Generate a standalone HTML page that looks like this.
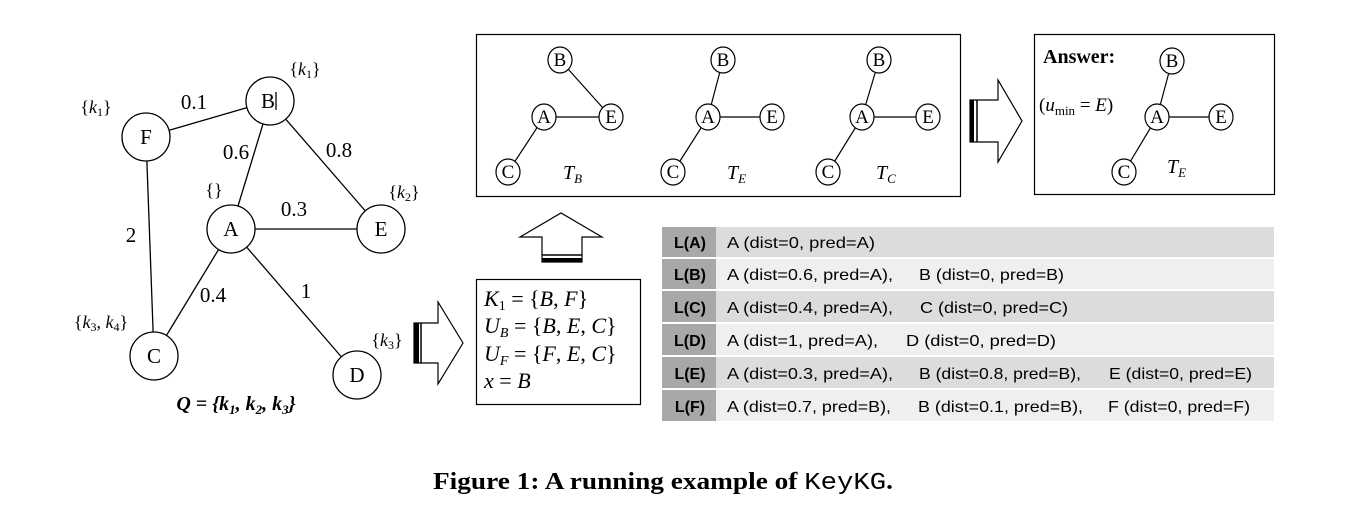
<!DOCTYPE html>
<html><head><meta charset="utf-8"><style>
body{margin:0;background:#fff}
svg text{font-family:"Liberation Serif",serif}
svg .t text{font-family:"Liberation Sans",sans-serif;font-size:16px}
</style></head><body>
<svg width="1357" height="511" viewBox="0 0 1357 511" xmlns="http://www.w3.org/2000/svg">
<g stroke="#000" stroke-width="1.3" fill="none">
<line x1="146" y1="137" x2="270" y2="101"/>
<line x1="146" y1="137" x2="154" y2="356"/>
<line x1="270" y1="101" x2="231" y2="229"/>
<line x1="270" y1="101" x2="381" y2="229"/>
<line x1="231" y1="229" x2="381" y2="229"/>
<line x1="231" y1="229" x2="154" y2="356"/>
<line x1="231" y1="229" x2="357" y2="375"/>
</g>
<g stroke="#000" stroke-width="1.3" fill="#fff">
<circle cx="146" cy="137" r="24"/><circle cx="270" cy="101" r="24"/><circle cx="231" cy="229" r="24"/>
<circle cx="381" cy="229" r="24"/><circle cx="154" cy="356" r="24"/><circle cx="357" cy="375" r="24"/>
</g>
<g font-size="21" text-anchor="middle">
<text x="146" y="144">F</text><text x="268" y="108">B</text><text x="231" y="236">A</text>
<text x="381" y="236">E</text><text x="154" y="363">C</text><text x="357" y="382">D</text>
<text x="194" y="109">0.1</text><text x="236" y="159">0.6</text><text x="339" y="157">0.8</text>
<text x="294" y="216">0.3</text><text x="131" y="242">2</text><text x="213" y="302">0.4</text><text x="306" y="298">1</text>
</g>
<line x1="276" y1="92" x2="276" y2="110" stroke="#000" stroke-width="1.3"/>
<g font-size="18" text-anchor="middle">
<text x="96" y="113">{<tspan font-style="italic">k</tspan><tspan font-size="12" dy="3">1</tspan><tspan dy="-3">}</tspan></text>
<text x="305" y="75">{<tspan font-style="italic">k</tspan><tspan font-size="12" dy="3">1</tspan><tspan dy="-3">}</tspan></text>
<text x="214" y="196">{}</text>
<text x="404" y="198">{<tspan font-style="italic">k</tspan><tspan font-size="12" dy="3">2</tspan><tspan dy="-3">}</tspan></text>
<text x="101" y="328">{<tspan font-style="italic">k</tspan><tspan font-size="12" dy="3">3</tspan><tspan dy="-3">, </tspan><tspan font-style="italic">k</tspan><tspan font-size="12" dy="3">4</tspan><tspan dy="-3">}</tspan></text>
<text x="387" y="346">{<tspan font-style="italic">k</tspan><tspan font-size="12" dy="3">3</tspan><tspan dy="-3">}</tspan></text>
</g>
<text x="236" y="410" font-size="20" font-weight="bold" font-style="italic" text-anchor="middle">Q = {k<tspan font-size="13" dy="4">1</tspan><tspan dy="-4">, k</tspan><tspan font-size="13" dy="4">2</tspan><tspan dy="-4">, k</tspan><tspan font-size="13" dy="4">3</tspan><tspan dy="-4">}</tspan></text>

<path d="M414 323 H438 V302 L463 343 L438 384 V363 H414 Z" fill="#fff" stroke="#000" stroke-width="1.2"/>
<rect x="414" y="323" width="5" height="40" fill="#000"/><line x1="421" y1="323" x2="421" y2="363" stroke="#000" stroke-width="1.5"/>
<path d="M542 262 V237 H520 L561 213 L602 237 H582 V262 Z" fill="#fff" stroke="#000" stroke-width="1.2"/>
<rect x="542" y="258" width="40" height="4" fill="#000"/><line x1="542" y1="255" x2="582" y2="255" stroke="#000" stroke-width="1.5"/>
<rect x="476.5" y="279.5" width="164" height="125" fill="none" stroke="#000" stroke-width="1.2"/>
<g font-size="22" font-style="italic">
<text x="484" y="306">K<tspan font-size="14" dy="4" font-style="normal">1</tspan><tspan dy="-4" font-style="normal"> = {</tspan>B<tspan font-style="normal">, </tspan>F<tspan font-style="normal">}</tspan></text>
<text x="484" y="333">U<tspan font-size="14" dy="4">B</tspan><tspan dy="-4" font-style="normal"> = {</tspan>B<tspan font-style="normal">, </tspan>E<tspan font-style="normal">, </tspan>C<tspan font-style="normal">}</tspan></text>
<text x="484" y="361">U<tspan font-size="14" dy="4">F</tspan><tspan dy="-4" font-style="normal"> = {</tspan>F<tspan font-style="normal">, </tspan>E<tspan font-style="normal">, </tspan>C<tspan font-style="normal">}</tspan></text>
<text x="484" y="388">x<tspan font-style="normal"> = </tspan>B</text>
</g>

<rect x="476.5" y="34.5" width="484" height="162" fill="none" stroke="#000" stroke-width="1.2"/>
<rect x="1034.5" y="34.5" width="240" height="160" fill="none" stroke="#000" stroke-width="1.2"/>
<g stroke="#000" stroke-width="1.2">
<line x1="560" y1="60" x2="611" y2="117"/><line x1="544" y1="117" x2="611" y2="117"/><line x1="544" y1="117" x2="508" y2="172"/>
<line x1="723" y1="60" x2="708" y2="117"/><line x1="708" y1="117" x2="772" y2="117"/><line x1="708" y1="117" x2="673" y2="172"/>
<line x1="879" y1="60" x2="862" y2="117"/><line x1="862" y1="117" x2="928" y2="117"/><line x1="862" y1="117" x2="828" y2="172"/>
<line x1="1172" y1="61" x2="1157" y2="117"/><line x1="1157" y1="117" x2="1221" y2="117"/><line x1="1157" y1="117" x2="1124" y2="172"/>
</g>
<g stroke="#000" stroke-width="1.2" fill="#fff">
<ellipse cx="560" cy="60" rx="12" ry="13"/><ellipse cx="544" cy="117" rx="12" ry="13"/><ellipse cx="611" cy="117" rx="12" ry="13"/><ellipse cx="508" cy="172" rx="12" ry="13"/>
<ellipse cx="723" cy="60" rx="12" ry="13"/><ellipse cx="708" cy="117" rx="12" ry="13"/><ellipse cx="772" cy="117" rx="12" ry="13"/><ellipse cx="673" cy="172" rx="12" ry="13"/>
<ellipse cx="879" cy="60" rx="12" ry="13"/><ellipse cx="862" cy="117" rx="12" ry="13"/><ellipse cx="928" cy="117" rx="12" ry="13"/><ellipse cx="828" cy="172" rx="12" ry="13"/>
<ellipse cx="1172" cy="61" rx="12" ry="13"/><ellipse cx="1157" cy="117" rx="12" ry="13"/><ellipse cx="1221" cy="117" rx="12" ry="13"/><ellipse cx="1124" cy="172" rx="12" ry="13"/>
</g>
<g font-size="19" text-anchor="middle">
<text x="560" y="66">B</text><text x="544" y="123">A</text><text x="611" y="123">E</text><text x="508" y="178">C</text>
<text x="723" y="66">B</text><text x="708" y="123">A</text><text x="772" y="123">E</text><text x="673" y="178">C</text>
<text x="879" y="66">B</text><text x="862" y="123">A</text><text x="928" y="123">E</text><text x="828" y="178">C</text>
<text x="1172" y="67">B</text><text x="1157" y="123">A</text><text x="1221" y="123">E</text><text x="1124" y="178">C</text>
</g>
<g font-size="20" font-style="italic">
<text x="563" y="179">T<tspan font-size="13" dy="4">B</tspan></text>
<text x="727" y="179">T<tspan font-size="13" dy="4">E</tspan></text>
<text x="876" y="179">T<tspan font-size="13" dy="4">C</tspan></text>
<text x="1167" y="173">T<tspan font-size="13" dy="4">E</tspan></text>
</g>
<text x="1043" y="63" font-size="20" font-weight="bold">Answer:</text>
<text x="1039" y="111" font-size="19">(<tspan font-style="italic">u</tspan><tspan font-size="13" dy="4">min</tspan><tspan dy="-4"> = </tspan><tspan font-style="italic">E</tspan>)</text>
<path d="M970 100 H998 V80 L1022 121 L998 162 V142 H970 Z" fill="#fff" stroke="#000" stroke-width="1.2"/>
<rect x="970" y="100" width="4" height="42" fill="#000"/><line x1="977" y1="100" x2="977" y2="142" stroke="#000" stroke-width="1.5"/>

<g>
<rect x="662" y="227" width="612" height="30" fill="#dcdcdc"/>
<rect x="662" y="259" width="612" height="30" fill="#efefef"/>
<rect x="662" y="291" width="612" height="31" fill="#dcdcdc"/>
<rect x="662" y="324" width="612" height="31" fill="#efefef"/>
<rect x="662" y="357" width="612" height="31" fill="#dcdcdc"/>
<rect x="662" y="390" width="612" height="31" fill="#efefef"/>
<rect x="662" y="227" width="54" height="194" fill="#a8a8a8"/>
<g fill="#fff"><rect x="662" y="257" width="612" height="2"/><rect x="662" y="289" width="612" height="2"/><rect x="662" y="322" width="612" height="2"/><rect x="662" y="355" width="612" height="2"/><rect x="662" y="388" width="612" height="2"/></g>
</g>
<g class="t" font-weight="bold" text-anchor="middle">
<text x="690" y="248">L(A)</text><text x="690" y="280">L(B)</text><text x="690" y="313">L(C)</text>
<text x="690" y="346">L(D)</text><text x="690" y="379">L(E)</text><text x="690" y="412">L(F)</text>
</g>
<g class="t">
<text x="727" y="248" textLength="148" lengthAdjust="spacingAndGlyphs">A (dist=0, pred=A)</text>
<text x="727" y="280" textLength="166" lengthAdjust="spacingAndGlyphs">A (dist=0.6, pred=A),</text><text x="919" y="280" textLength="145" lengthAdjust="spacingAndGlyphs">B (dist=0, pred=B)</text>
<text x="727" y="313" textLength="166" lengthAdjust="spacingAndGlyphs">A (dist=0.4, pred=A),</text><text x="920" y="313" textLength="148" lengthAdjust="spacingAndGlyphs">C (dist=0, pred=C)</text>
<text x="727" y="346" textLength="151" lengthAdjust="spacingAndGlyphs">A (dist=1, pred=A),</text><text x="906" y="346" textLength="150" lengthAdjust="spacingAndGlyphs">D (dist=0, pred=D)</text>
<text x="727" y="379" textLength="166" lengthAdjust="spacingAndGlyphs">A (dist=0.3, pred=A),</text><text x="919" y="379" textLength="162" lengthAdjust="spacingAndGlyphs">B (dist=0.8, pred=B),</text><text x="1109" y="379" textLength="143" lengthAdjust="spacingAndGlyphs">E (dist=0, pred=E)</text>
<text x="727" y="412" textLength="164" lengthAdjust="spacingAndGlyphs">A (dist=0.7, pred=B),</text><text x="918" y="412" textLength="165" lengthAdjust="spacingAndGlyphs">B (dist=0.1, pred=B),</text><text x="1108" y="412" textLength="142" lengthAdjust="spacingAndGlyphs">F (dist=0, pred=F)</text>
</g>

<text x="663" y="489" font-size="24" font-weight="bold" text-anchor="middle" textLength="460" lengthAdjust="spacingAndGlyphs">Figure 1: A running example of <tspan font-family="Liberation Mono, monospace" font-weight="normal">KeyKG</tspan>.</text>
</svg>
</body></html>
